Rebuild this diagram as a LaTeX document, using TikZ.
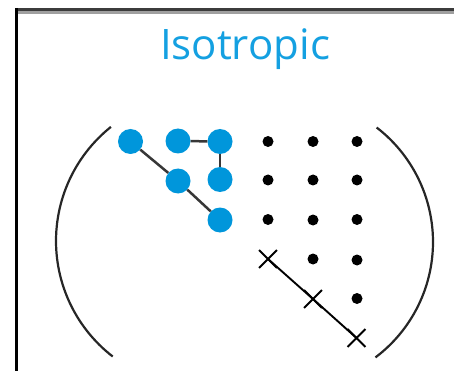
\documentclass[tikz,border=0pt]{standalone}
\usepackage{fontspec}
\setmainfont{Open Sans}
\usetikzlibrary{shapes.misc}
\definecolor{isoblue}{RGB}{0,150,219}
\definecolor{titleblue}{RGB}{20,160,225}
\definecolor{linkgray}{RGB}{55,55,55}
\definecolor{framedark}{RGB}{60,60,60}
\definecolor{framelight}{RGB}{160,160,160}
\begin{document}
\begin{tikzpicture}[x=1pt,y=-1pt,
  bluedot/.style={circle,fill=isoblue,inner sep=0pt,minimum size=25pt},
  blackdot/.style={circle,fill=black,inner sep=0pt,minimum size=11pt},
  crossmark/.style={cross out,draw=black,line width=1.9pt,inner sep=0pt,minimum size=16pt},
  link/.style={draw=linkgray,line width=2.5pt},
  crosslink/.style={draw=black,line width=1.9pt},
  bracket/.style={draw=black!85,line width=2.2pt},
  titlestyle/.style={text=titleblue,font=\fontsize{42}{42}\selectfont,inner sep=0pt,anchor=base}]
\useasboundingbox (0,0) rectangle (454,371);
% frame
\draw[framedark,line width=3pt] (15,9.5) -- (454,9.5);
\draw[framelight,line width=2.5pt] (18,12.3) -- (454,12.3);
\draw[black,line width=3pt] (16.5,8) -- (16.5,371);
% title
\node[titlestyle] (title) at (245,60) {Isotropic};
% brackets
\draw[bracket] plot[domain=128.6:232.3,samples=60] ({202+146*cos(\x)},{241-146*sin(\x)});
\draw[bracket] plot[domain=-53:52.4,samples=60] ({288.5+144.5*cos(\x)},{242-144.5*sin(\x)});
% blue dots
\node[bluedot] (b00) at (130.5,141.5) {};
\node[bluedot] (b01) at (178,141) {};
\node[bluedot] (b02) at (220,141.5) {};
\node[bluedot] (b11) at (178,181) {};
\node[bluedot] (b12) at (220,179.5) {};
\node[bluedot] (b22) at (220,220) {};
\draw[link] (b00) -- (b11);
\draw[link] (b11) -- (b22);
\draw[link] (b01) -- (b02);
\draw[link] (b02) -- (b12);
% black dots
\node[blackdot] (k03) at (268,141.5) {};
\node[blackdot] (k04) at (313,141.5) {};
\node[blackdot] (k05) at (357,141.5) {};
\node[blackdot] (k13) at (268,180) {};
\node[blackdot] (k14) at (313,180) {};
\node[blackdot] (k15) at (357,180) {};
\node[blackdot] (k23) at (268,219.5) {};
\node[blackdot] (k24) at (313,220) {};
\node[blackdot] (k25) at (357,219.5) {};
\node[blackdot] (k34) at (313,259) {};
\node[blackdot] (k35) at (357,260) {};
\node[blackdot] (k45) at (357,298.5) {};
% crosses
\node[crossmark] (x33) at (268,259) {};
\node[crossmark] (x44) at (313,299) {};
\node[crossmark] (x55) at (356.5,338) {};
\draw[crosslink] (x33.center) -- (x44.center) -- (x55.center);
\end{tikzpicture}
\end{document}
